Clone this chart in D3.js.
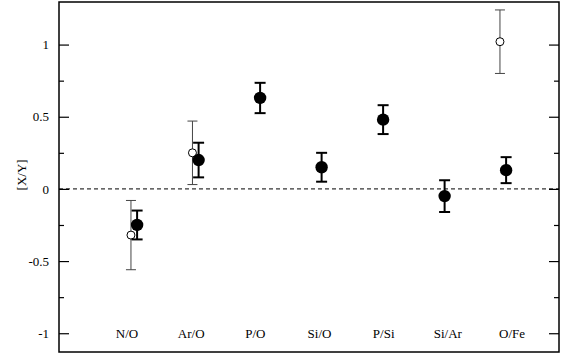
<!DOCTYPE html>
<html>
<head>
<meta charset="utf-8">
<script src="https://cdn.jsdelivr.net/npm/d3@7"></script>
<style>
  body { margin: 0; background: #fff; }
  svg text { font-family: "Liberation Serif", "Times New Roman", Times, serif; }
</style>
</head>
<body>
<svg></svg>
<script>
const size = { w: 574, h: 356 };
const margin = { t: 2, r: 15, b: 4, l: 59 };

// ratio labels along the bottom
const ratios = ["N/O", "Ar/O", "P/O", "Si/O", "P/Si", "Si/Ar", "O/Fe"];

// filled points: value and symmetric error
const filledVal = [-0.25, 0.20, 0.63, 0.15, 0.48, -0.05, 0.13];
const filledErr = [0.10, 0.12, 0.105, 0.10, 0.10, 0.11, 0.09];

// open points (only some ratios)
const openRatio = ["N/O", "Ar/O", "O/Fe"];
const openVal = [-0.32, 0.25, 1.02];
const openErr = [0.24, 0.22, 0.22];

const yMajor = [-1, -0.5, 0, 0.5, 1];
const yMinor = [-0.75, -0.25, 0.25, 0.75];

const svg = d3.select("svg").attr("width", size.w).attr("height", size.h);

const x = d3.scaleLinear()
  .domain([-1.27, 6.86])
  .range([margin.l, size.w - margin.r]);
const y = d3.scaleLinear()
  .domain([-1.13, 1.295])
  .range([size.h - margin.b, margin.t]);
// labels sit on their own, slightly wider spread than the points
const xLabel = d3.scalePoint().domain(ratios).range([127, 512]);

const g = svg.append("g");

// zero reference line
g.append("line")
  .attr("x1", x.range()[0]).attr("x2", x.range()[1])
  .attr("y1", y(0)).attr("y2", y(0))
  .attr("stroke", "#000").attr("stroke-width", 1)
  .attr("stroke-dasharray", "4,3");

// left axis (ticks pointing inward)
const leftAxis = d3.axisLeft(y).tickValues(yMajor).tickSize(-10).tickPadding(6)
  .tickFormat(d => String(d));
const leftG = g.append("g").attr("transform", `translate(${x.range()[0]},0)`).call(leftAxis);
leftG.select(".domain").remove();
leftG.attr("font-family", null);
leftG.selectAll("text").attr("font-size", 13).attr("dx", -4).attr("fill", "#000");
leftG.selectAll("line").attr("stroke-width", 1.2);

const leftMinor = g.append("g").attr("transform", `translate(${x.range()[0]},0)`)
  .call(d3.axisLeft(y).tickValues(yMinor).tickSize(-5).tickFormat(""));
leftMinor.select(".domain").remove();
leftMinor.selectAll("line").attr("stroke-width", 1.2);

// right axis ticks, inward, no labels
const rightG = g.append("g").attr("transform", `translate(${x.range()[1]},0)`)
  .call(d3.axisRight(y).tickValues(yMajor).tickSize(-10).tickFormat(""));
rightG.select(".domain").remove();
rightG.selectAll("line").attr("stroke-width", 1.2);
const rightMinor = g.append("g").attr("transform", `translate(${x.range()[1]},0)`)
  .call(d3.axisRight(y).tickValues(yMinor).tickSize(-5).tickFormat(""));
rightMinor.select(".domain").remove();
rightMinor.selectAll("line").attr("stroke-width", 1.2);

// frame
g.append("rect")
  .attr("x", x.range()[0]).attr("y", y.range()[1])
  .attr("width", x.range()[1] - x.range()[0])
  .attr("height", y.range()[0] - y.range()[1])
  .attr("fill", "none").attr("stroke", "#000").attr("stroke-width", 1.5);

// category labels
g.selectAll("text.ratio")
  .data(ratios)
  .join("text")
  .classed("ratio", true)
  .attr("x", d => xLabel(d))
  .attr("y", y(-1) + 5)
  .attr("text-anchor", "middle")
  .attr("font-size", 13)
  .text(d => d);

// y label
svg.append("text")
  .attr("transform", `translate(26,${y(0.097)}) rotate(-90)`)
  .attr("text-anchor", "middle")
  .attr("font-size", 13)
  .text("[X/Y]");

// open points with thin error bars
const openData = openRatio.map((r, i) => ({ xi: ratios.indexOf(r) - 0.1, v: openVal[i], e: openErr[i] }));
const openG = g.append("g");
openData.forEach(d => {
  const cx = x(d.xi);
  openG.append("line").attr("x1", cx).attr("x2", cx)
    .attr("y1", y(d.v + d.e)).attr("y2", y(d.v - d.e))
    .attr("stroke", "#444").attr("stroke-width", 1);
  [d.v + d.e, d.v - d.e].forEach(v => {
    openG.append("line").attr("x1", cx - 5).attr("x2", cx + 5)
      .attr("y1", y(v)).attr("y2", y(v))
      .attr("stroke", "#444").attr("stroke-width", 1);
  });
  openG.append("circle").attr("cx", cx).attr("cy", y(d.v)).attr("r", 4)
    .attr("fill", "#fff").attr("stroke", "#000").attr("stroke-width", 1);
});

// filled points with thick error bars
const filledG = g.append("g");
filledVal.forEach((v, i) => {
  const cx = x(i), e = filledErr[i];
  filledG.append("line").attr("x1", cx).attr("x2", cx)
    .attr("y1", y(v + e)).attr("y2", y(v - e))
    .attr("stroke", "#000").attr("stroke-width", 2);
  [v + e, v - e].forEach(t => {
    filledG.append("line").attr("x1", cx - 5.5).attr("x2", cx + 5.5)
      .attr("y1", y(t)).attr("y2", y(t))
      .attr("stroke", "#000").attr("stroke-width", 2);
  });
  filledG.append("circle").attr("cx", cx).attr("cy", y(v)).attr("r", 6.2)
    .attr("fill", "#000");
});
</script>
</body>
</html>
